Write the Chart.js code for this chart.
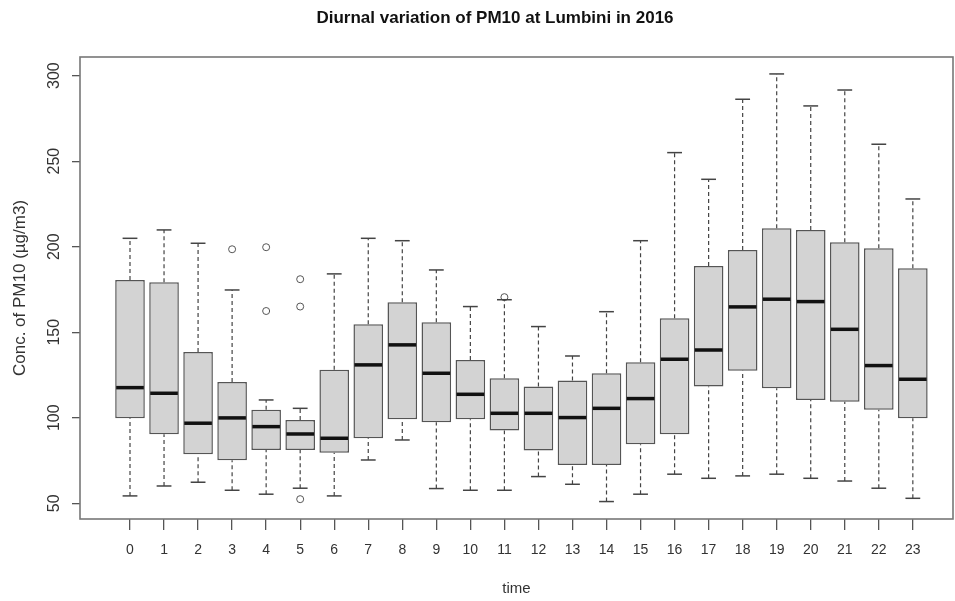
<!DOCTYPE html>
<html>
<head>
<meta charset="utf-8">
<script src="https://cdn.jsdelivr.net/npm/chart.js@4.4.1/dist/chart.umd.min.js"></script>
<style>
  html, body { margin: 0; padding: 0; background: #fff; }
  canvas { display: block; }
</style>
</head>
<body>
<canvas id="chart" width="955" height="601"></canvas>
<script>
// hour of day, 0..23
const hours = [0, 1, 2, 3, 4, 5, 6, 7, 8, 9, 10, 11, 12, 13, 14, 15, 16, 17, 18, 19, 20, 21, 22, 23];
const hourLabels = hours.map(String);

// five-number summaries (µg/m3)
const whiskerLow  = [54.3, 60.1, 62.3, 57.6, 55.3, 58.8, 54.3, 75.3, 87.0, 58.6, 57.6, 57.6, 65.6, 61.1, 51.0, 55.3, 67.0, 64.6, 66.0, 67.0, 64.6, 63.0, 58.8, 52.9];
const q1          = [99.7, 90.3, 78.6, 75.1, 81.2, 81.2, 79.6, 88.0, 99.1, 97.4, 99.1, 92.5, 80.8, 72.4, 72.4, 84.5, 90.3, 118.2, 127.5, 117.2, 110.4, 109.4, 104.6, 99.7];
const median      = [117.6, 114.3, 96.8, 99.9, 94.8, 90.5, 88.0, 130.9, 142.6, 126.0, 113.7, 102.6, 102.6, 100.1, 105.5, 111.2, 134.2, 139.6, 164.8, 169.3, 167.9, 151.7, 130.5, 122.5];
const q3          = [180.6, 179.2, 138.5, 120.9, 104.6, 98.7, 128.0, 154.7, 167.5, 155.8, 133.8, 123.1, 118.2, 121.7, 126.0, 132.4, 158.2, 188.7, 198.1, 210.8, 209.8, 202.6, 199.1, 187.4];
const whiskerHigh = [204.9, 209.8, 202.0, 174.7, 110.4, 105.5, 184.1, 204.9, 203.5, 186.4, 165.0, 169.0, 153.3, 136.1, 162.0, 203.5, 255.0, 239.4, 286.2, 301.0, 282.3, 291.6, 259.9, 227.9];

// outliers: hour and value
const outlierHours  = [3, 4, 4, 5, 5, 5, 11];
const outlierValues = [198.5, 199.7, 162.4, 181.0, 165.0, 52.4, 170.5];

const yTicks = [50, 100, 150, 200, 250, 300];
const chartTitle = 'Diurnal variation of PM10 at Lumbini in 2016';

const FONT = '"Liberation Sans", Arial, sans-serif';

const boxParts = {
  id: 'boxParts',
  afterDatasetsDraw(chart) {
    const { ctx, chartArea, scales: { x, y } } = chart;
    const meta = chart.getDatasetMeta(0);
    const seg = (x1, y1, x2, y2) => {
      ctx.beginPath();
      ctx.moveTo(x1, y1);
      ctx.lineTo(x2, y2);
      ctx.stroke();
    };
    ctx.save();
    hours.forEach((h, i) => {
      const px = x.getPixelForValue(h);
      const half = meta.data[i].width / 2;
      const yLo = y.getPixelForValue(whiskerLow[i]);
      const yHi = y.getPixelForValue(whiskerHigh[i]);
      // dashed whiskers
      ctx.strokeStyle = '#444';
      ctx.lineWidth = 1.2;
      ctx.setLineDash([4, 3]);
      seg(px, yLo, px, y.getPixelForValue(q1[i]));
      seg(px, y.getPixelForValue(q3[i]), px, yHi);
      ctx.setLineDash([]);
      // staples
      ctx.lineWidth = 1.5;
      seg(px - half / 2, yLo, px + half / 2, yLo);
      seg(px - half / 2, yHi, px + half / 2, yHi);
      // median
      ctx.strokeStyle = '#111';
      ctx.lineWidth = 3.5;
      const ym = y.getPixelForValue(median[i]);
      seg(px - half + 1, ym, px + half - 1, ym);
    });

    // rotated y tick labels like R's las = 0
    ctx.fillStyle = '#333';
    ctx.font = '16px ' + FONT;
    ctx.textAlign = 'center';
    ctx.textBaseline = 'middle';
    yTicks.forEach(v => {
      ctx.save();
      ctx.translate(55, y.getPixelForValue(v));
      ctx.rotate(-Math.PI / 2);
      ctx.fillText(String(v), 0, 0);
      ctx.restore();
    });

    // main title
    ctx.fillStyle = '#111';
    ctx.font = 'bold 17px ' + FONT;
    ctx.fillText(chartTitle, 495, 18);

    // full frame around the plot region
    ctx.strokeStyle = '#777';
    ctx.lineWidth = 1.6;
    ctx.strokeRect(chartArea.left, chartArea.top, chartArea.right - chartArea.left, chartArea.bottom - chartArea.top);
    ctx.restore();
  }
};

new Chart(document.getElementById('chart'), {
  data: {
    datasets: [
      {
        type: 'bar',
        label: 'IQR',
        data: hours.map((h, i) => ({ x: h, y: [q1[i], q3[i]] })),
        backgroundColor: '#d3d3d3',
        borderColor: '#555',
        borderWidth: 1.5,
        borderSkipped: false,
        categoryPercentage: 1,
        barPercentage: 0.87,
      },
      {
        type: 'scatter',
        label: 'Outliers',
        data: outlierHours.map((h, i) => ({ x: h, y: outlierValues[i] })),
        pointStyle: 'circle',
        pointRadius: 3.5,
        backgroundColor: 'rgba(0,0,0,0)',
        borderColor: '#555',
        borderWidth: 1,
      },
    ],
  },
  options: {
    responsive: false,
    animation: false,
    devicePixelRatio: 1,
    layout: { autoPadding: false, padding: { left: 0, right: 2, top: 57, bottom: 0 } },
    plugins: {
      legend: { display: false },
      tooltip: { enabled: false },
      title: { display: false },
    },
    scales: {
      x: {
        type: 'linear',
        min: -1.469,
        max: 24.18,
        offset: false,
        afterBuildTicks: (scale) => {
          scale.ticks = hours.map(h => ({ value: h }));
        },
        afterFit: (scale) => {
          scale.height = 82;
          scale.paddingLeft = 0;
          scale.paddingRight = 0;
        },
        grid: { offset: false, drawOnChartArea: false, tickLength: 11, color: '#555', lineWidth: 1.3 },
        border: { display: false },
        ticks: {
          autoSkip: false,
          maxRotation: 0,
          padding: 12,
          color: '#333',
          font: { family: FONT, size: 14 },
          callback: (value) => hourLabels[value],
        },
        title: {
          display: true,
          text: 'time',
          color: '#333',
          font: { family: FONT, size: 15 },
          padding: { top: 0, bottom: 3 },
        },
      },
      y: {
        type: 'linear',
        min: 40.8,
        max: 310.9,
        afterBuildTicks: (scale) => {
          scale.ticks = yTicks.map(v => ({ value: v }));
        },
        afterFit: (scale) => { scale.width = 80; },
        grid: { drawOnChartArea: false, tickLength: 8, color: '#555', lineWidth: 1.3 },
        border: { display: false },
        ticks: { display: false },
        title: {
          display: true,
          text: 'Conc. of PM10 (µg/m3)',
          color: '#333',
          font: { family: FONT, size: 17 },
          padding: { top: 10, bottom: 0 },
        },
      },
    },
  },
  plugins: [boxParts],
});
</script>
</body>
</html>
